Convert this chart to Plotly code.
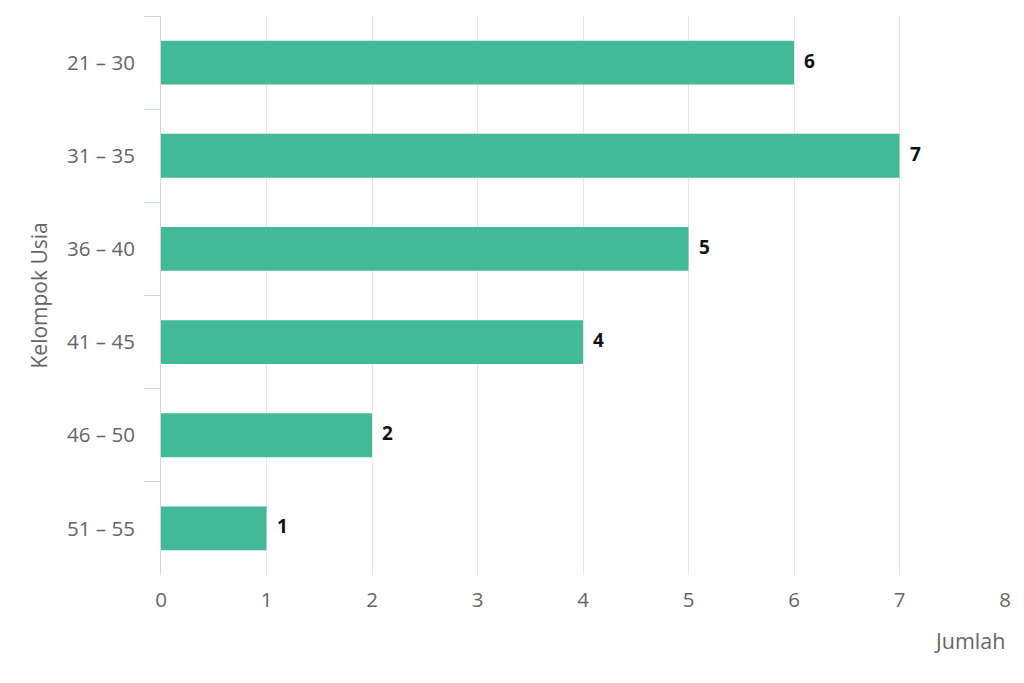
import plotly.graph_objects as go

categories = ["21 – 30", "31 – 35", "36 – 40", "41 – 45", "46 – 50", "51 – 55"]
values = [6, 7, 5, 4, 2, 1]
x_ticks = [0, 1, 2, 3, 4, 5, 6, 7, 8]

FONT = "Open Sans"
TICK_SIZE = 20.5
fig = go.Figure()
fig.add_trace(go.Bar(
    x=values, y=categories, orientation="h",
    marker=dict(color="#43ba96", line=dict(width=0)),
    hoverinfo="x+y",
))

for v, c in zip(values, categories):
    fig.add_annotation(x=v, y=c, xref="x", yref="y", text=f"<b>{v}</b>",
                       showarrow=False, xanchor="left", yanchor="middle",
                       xshift=8, yshift=2, font=dict(family=FONT, size=19, color="#111111"))

fig.add_annotation(x=1, y=0, xref="paper", yref="paper", text="Jumlah",
                   showarrow=False, xanchor="right", yanchor="middle",
                   yshift=-65, xshift=2, font=dict(family=FONT, size=21.5, color="#666666"))
fig.add_annotation(x=0, y=0.5, xref="paper", yref="paper", text="Kelompok Usia",
                   showarrow=False, xanchor="center", yanchor="middle", textangle=-90,
                   xshift=-123, font=dict(family=FONT, size=21, color="#666666"))

fig.update_layout(
    width=1016, height=675,
    margin=dict(l=153, r=19, t=8, b=108),
    plot_bgcolor="white", paper_bgcolor="white",
    bargap=0.53, showlegend=False,
    font=dict(family=FONT, size=TICK_SIZE, color="#666666"),
    xaxis=dict(range=[0, 8], tickvals=x_ticks, showgrid=True, gridcolor="#e6e6e6",
               gridwidth=1, zeroline=False, showline=False, ticks="",
               ticklabelstandoff=10, tickfont=dict(family=FONT, size=TICK_SIZE, color="#666666")),
    yaxis=dict(autorange="reversed", showline=True, linecolor="#ccd6eb", linewidth=1,
               ticks="outside", tickson="boundaries", ticklen=16, tickcolor="#ccd6eb",
               tickwidth=1, showgrid=False, ticklabelstandoff=21,
               tickfont=dict(family=FONT, size=TICK_SIZE, color="#666666")),
)

fig.write_html("out.html")
